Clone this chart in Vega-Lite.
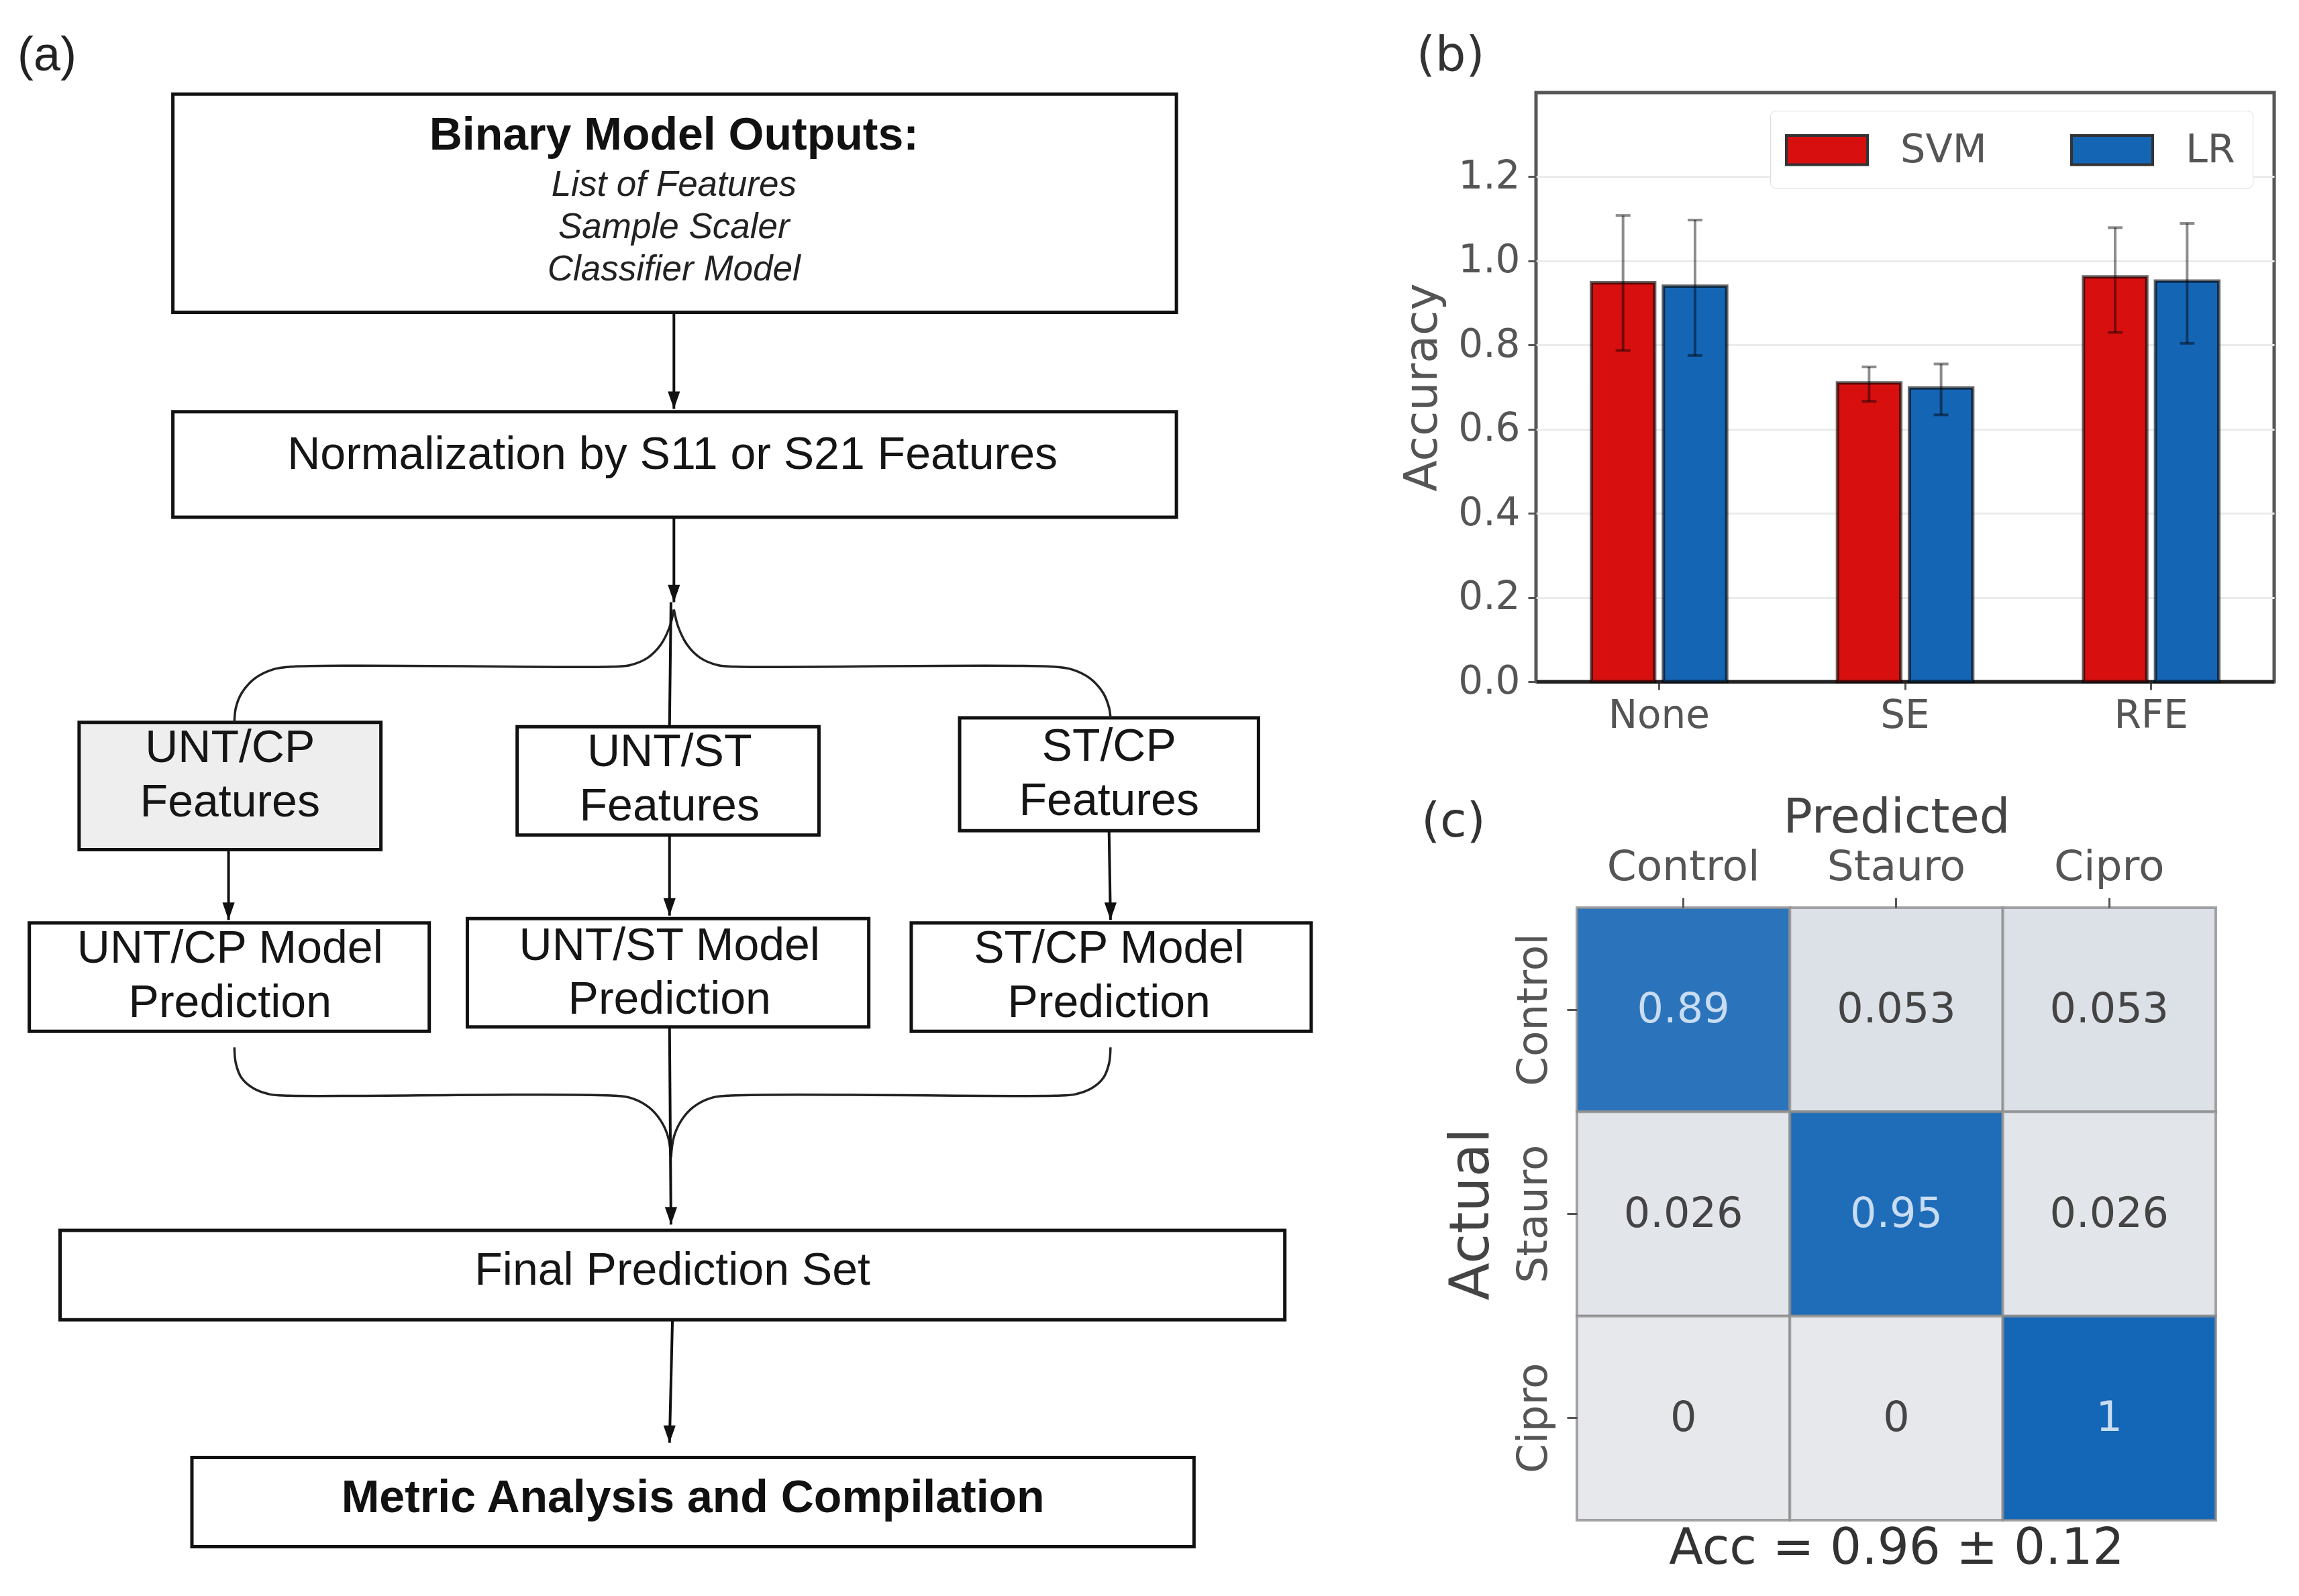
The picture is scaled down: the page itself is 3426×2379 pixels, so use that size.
{
  "$schema": "https://vega.github.io/schema/vega-lite/v6.json",
  "background": "white",
  "padding": {"left": 0, "top": 44, "right": 0, "bottom": 0},
  "spacing": 106,
  "config": {
    "view": {"stroke": null},
    "axis": {"labelFont": "DejaVu Sans", "titleFont": "DejaVu Sans", "titleFontWeight": "normal", "labelLimit": 500},
    "title": {"font": "DejaVu Sans", "fontWeight": "normal", "color": "#333333", "fontSize": 72}
  },
  "datasets": {
    "boxes": [
      {"box": "outputs", "x1": 118, "x2": 803, "y1": 64, "y2": 213, "shaded": false},
      {"box": "norm", "x1": 118, "x2": 803, "y1": 281, "y2": 353, "shaded": false},
      {"box": "f_untcp", "x1": 54, "x2": 260, "y1": 493, "y2": 580, "shaded": true},
      {"box": "f_untst", "x1": 353, "x2": 559, "y1": 496, "y2": 570, "shaded": false},
      {"box": "f_stcp", "x1": 655, "x2": 859, "y1": 490, "y2": 567, "shaded": false},
      {"box": "m_untcp", "x1": 20, "x2": 293, "y1": 630, "y2": 704, "shaded": false},
      {"box": "m_untst", "x1": 319, "x2": 593, "y1": 627, "y2": 701, "shaded": false},
      {"box": "m_stcp", "x1": 622, "x2": 895, "y1": 630, "y2": 704, "shaded": false},
      {"box": "final", "x1": 41, "x2": 877, "y1": 840, "y2": 901, "shaded": false},
      {"box": "metric", "x1": 131, "x2": 815, "y1": 995, "y2": 1056, "shaded": false}
    ],
    "arrows": [
      {"x": 460, "y": 213, "x2": 460, "y2": 279, "head": true},
      {"x": 460, "y": 353, "x2": 460, "y2": 411, "head": true},
      {"x": 458, "y": 411, "x2": 457, "y2": 496, "head": false},
      {"x": 156, "y": 580, "x2": 156, "y2": 628, "head": true},
      {"x": 457, "y": 570, "x2": 457, "y2": 625, "head": true},
      {"x": 757, "y": 567, "x2": 758, "y2": 628, "head": true},
      {"x": 457, "y": 701, "x2": 458, "y2": 836, "head": true},
      {"x": 459, "y": 901, "x2": 457, "y2": 985, "head": true}
    ],
    "braces": [
      {"path": "up_left", "seq": 1, "x": 460, "y": 416},
      {"path": "up_left", "seq": 2, "x": 457, "y": 428},
      {"path": "up_left", "seq": 3, "x": 451, "y": 440},
      {"path": "up_left", "seq": 4, "x": 442, "y": 449},
      {"path": "up_left", "seq": 5, "x": 430, "y": 454},
      {"path": "up_left", "seq": 6, "x": 418, "y": 455},
      {"path": "up_left", "seq": 7, "x": 200, "y": 455},
      {"path": "up_left", "seq": 8, "x": 186, "y": 457},
      {"path": "up_left", "seq": 9, "x": 174, "y": 463},
      {"path": "up_left", "seq": 10, "x": 165, "y": 473},
      {"path": "up_left", "seq": 11, "x": 161, "y": 483},
      {"path": "up_left", "seq": 12, "x": 160, "y": 493},
      {"path": "up_right", "seq": 1, "x": 460, "y": 416},
      {"path": "up_right", "seq": 2, "x": 463, "y": 428},
      {"path": "up_right", "seq": 3, "x": 469, "y": 440},
      {"path": "up_right", "seq": 4, "x": 478, "y": 449},
      {"path": "up_right", "seq": 5, "x": 490, "y": 454},
      {"path": "up_right", "seq": 6, "x": 502, "y": 455},
      {"path": "up_right", "seq": 7, "x": 718, "y": 455},
      {"path": "up_right", "seq": 8, "x": 732, "y": 457},
      {"path": "up_right", "seq": 9, "x": 744, "y": 463},
      {"path": "up_right", "seq": 10, "x": 753, "y": 473},
      {"path": "up_right", "seq": 11, "x": 757, "y": 483},
      {"path": "up_right", "seq": 12, "x": 758, "y": 490},
      {"path": "low_left", "seq": 1, "x": 160, "y": 715},
      {"path": "low_left", "seq": 2, "x": 161, "y": 726},
      {"path": "low_left", "seq": 3, "x": 165, "y": 736},
      {"path": "low_left", "seq": 4, "x": 173, "y": 743},
      {"path": "low_left", "seq": 5, "x": 184, "y": 747},
      {"path": "low_left", "seq": 6, "x": 198, "y": 748},
      {"path": "low_left", "seq": 7, "x": 420, "y": 748},
      {"path": "low_left", "seq": 8, "x": 432, "y": 750},
      {"path": "low_left", "seq": 9, "x": 443, "y": 756},
      {"path": "low_left", "seq": 10, "x": 451, "y": 765},
      {"path": "low_left", "seq": 11, "x": 456, "y": 776},
      {"path": "low_left", "seq": 12, "x": 458, "y": 790},
      {"path": "low_right", "seq": 1, "x": 758, "y": 715},
      {"path": "low_right", "seq": 2, "x": 757, "y": 726},
      {"path": "low_right", "seq": 3, "x": 753, "y": 736},
      {"path": "low_right", "seq": 4, "x": 745, "y": 743},
      {"path": "low_right", "seq": 5, "x": 734, "y": 747},
      {"path": "low_right", "seq": 6, "x": 720, "y": 748},
      {"path": "low_right", "seq": 7, "x": 496, "y": 748},
      {"path": "low_right", "seq": 8, "x": 484, "y": 750},
      {"path": "low_right", "seq": 9, "x": 473, "y": 756},
      {"path": "low_right", "seq": 10, "x": 465, "y": 765},
      {"path": "low_right", "seq": 11, "x": 460, "y": 776},
      {"path": "low_right", "seq": 12, "x": 458, "y": 790}
    ],
    "texts": [
      {"role": "head", "text": "Binary Model Outputs:", "x": 460, "y": 93},
      {"role": "item", "text": "List of Features", "x": 460, "y": 126},
      {"role": "item", "text": "Sample Scaler", "x": 460, "y": 155},
      {"role": "item", "text": "Classifier Model", "x": 460, "y": 184},
      {"role": "body", "text": "Normalization by S11 or S21 Features", "x": 459, "y": 311},
      {"role": "body", "text": "UNT/CP", "x": 157, "y": 511},
      {"role": "body", "text": "Features", "x": 157, "y": 548},
      {"role": "body", "text": "UNT/ST", "x": 457, "y": 514},
      {"role": "body", "text": "Features", "x": 457, "y": 551},
      {"role": "body", "text": "ST/CP", "x": 757, "y": 510},
      {"role": "body", "text": "Features", "x": 757, "y": 547},
      {"role": "body", "text": "UNT/CP Model", "x": 157, "y": 648},
      {"role": "body", "text": "Prediction", "x": 157, "y": 685},
      {"role": "body", "text": "UNT/ST Model", "x": 457, "y": 646},
      {"role": "body", "text": "Prediction", "x": 457, "y": 683},
      {"role": "body", "text": "ST/CP Model", "x": 757, "y": 648},
      {"role": "body", "text": "Prediction", "x": 757, "y": 685},
      {"role": "body", "text": "Final Prediction Set", "x": 459, "y": 868},
      {"role": "head", "text": "Metric Analysis and Compilation", "x": 473, "y": 1023}
    ],
    "accuracy": [
      {"method": "None", "model": "SVM", "accuracy": 0.948, "low": 0.787, "high": 1.108},
      {"method": "None", "model": "LR", "accuracy": 0.94, "low": 0.775, "high": 1.097},
      {"method": "SE", "model": "SVM", "accuracy": 0.71, "low": 0.666, "high": 0.748},
      {"method": "SE", "model": "LR", "accuracy": 0.698, "low": 0.634, "high": 0.755},
      {"method": "RFE", "model": "SVM", "accuracy": 0.962, "low": 0.83, "high": 1.079},
      {"method": "RFE", "model": "LR", "accuracy": 0.952, "low": 0.804, "high": 1.089}
    ],
    "confusion": [
      {"actual": "Control", "predicted": "Control", "value": 0.89, "label": "0.89"},
      {"actual": "Control", "predicted": "Stauro", "value": 0.053, "label": "0.053"},
      {"actual": "Control", "predicted": "Cipro", "value": 0.053, "label": "0.053"},
      {"actual": "Stauro", "predicted": "Control", "value": 0.026, "label": "0.026"},
      {"actual": "Stauro", "predicted": "Stauro", "value": 0.95, "label": "0.95"},
      {"actual": "Stauro", "predicted": "Cipro", "value": 0.026, "label": "0.026"},
      {"actual": "Cipro", "predicted": "Control", "value": 0, "label": "0"},
      {"actual": "Cipro", "predicted": "Stauro", "value": 0, "label": "0"},
      {"actual": "Cipro", "predicted": "Cipro", "value": 1, "label": "1"}
    ]
  },
  "hconcat": [
    {
      "width": 1978,
      "height": 2220,
      "title": {"text": "(a)", "anchor": "start", "frame": "bounds", "offset": 18, "dx": 26, "font": "Liberation Sans", "color": "#222222"},
      "layer": [
        {
          "data": {"name": "boxes"},
          "mark": {"type": "rect", "stroke": "#111111", "strokeWidth": 5},
          "encoding": {
            "x": {"field": "x1", "type": "quantitative", "scale": {"domain": [0, 906], "nice": false, "zero": false}, "axis": null},
            "x2": {"field": "x2"},
            "y": {"field": "y1", "type": "quantitative", "scale": {"domain": [63, 1080], "nice": false, "zero": false, "reverse": true}, "axis": null},
            "y2": {"field": "y2"},
            "fill": {"condition": {"test": "datum.shaded", "value": "#eeeeee"}, "value": "#ffffff"}
          }
        },
        {
          "data": {"name": "braces"},
          "mark": {"type": "line", "interpolate": "catmull-rom", "stroke": "#222222", "strokeWidth": 3.5},
          "encoding": {
            "x": {"field": "x", "type": "quantitative", "scale": {"domain": [0, 906], "nice": false, "zero": false}, "axis": null},
            "y": {"field": "y", "type": "quantitative", "scale": {"domain": [63, 1080], "nice": false, "zero": false, "reverse": true}, "axis": null},
            "detail": {"field": "path"},
            "order": {"field": "seq", "type": "quantitative"}
          }
        },
        {
          "data": {"name": "arrows"},
          "mark": {"type": "rule", "stroke": "#111111", "strokeWidth": 4},
          "encoding": {
            "x": {"field": "x", "type": "quantitative", "scale": {"domain": [0, 906], "nice": false, "zero": false}, "axis": null},
            "y": {"field": "y", "type": "quantitative", "scale": {"domain": [63, 1080], "nice": false, "zero": false, "reverse": true}, "axis": null},
            "x2": {"field": "x2"},
            "y2": {"field": "y2"}
          }
        },
        {
          "data": {"name": "arrows"},
          "transform": [{"filter": "datum.head"}],
          "mark": {"type": "point", "shape": "M-0.35,-1L0.35,-1L0,0Z", "filled": true, "size": 2704, "color": "#111111", "opacity": 1, "strokeWidth": 0},
          "encoding": {
            "x": {"field": "x2", "type": "quantitative", "scale": {"domain": [0, 906], "nice": false, "zero": false}, "axis": null},
            "y": {"field": "y2", "type": "quantitative", "scale": {"domain": [63, 1080], "nice": false, "zero": false, "reverse": true}, "axis": null}
          }
        },
        {
          "data": {"name": "texts"},
          "transform": [{"filter": "datum.role === 'head'"}],
          "mark": {"type": "text", "font": "Liberation Sans", "fontSize": 68, "fontWeight": "bold", "color": "#111111", "align": "center", "baseline": "middle"},
          "encoding": {
            "x": {"field": "x", "type": "quantitative", "scale": {"domain": [0, 906], "nice": false, "zero": false}, "axis": null},
            "y": {"field": "y", "type": "quantitative", "scale": {"domain": [63, 1080], "nice": false, "zero": false, "reverse": true}, "axis": null},
            "text": {"field": "text"}
          }
        },
        {
          "data": {"name": "texts"},
          "transform": [{"filter": "datum.role === 'item'"}],
          "mark": {"type": "text", "font": "Liberation Sans", "fontSize": 53, "fontStyle": "italic", "color": "#222222", "align": "center", "baseline": "middle"},
          "encoding": {
            "x": {"field": "x", "type": "quantitative", "scale": {"domain": [0, 906], "nice": false, "zero": false}, "axis": null},
            "y": {"field": "y", "type": "quantitative", "scale": {"domain": [63, 1080], "nice": false, "zero": false, "reverse": true}, "axis": null},
            "text": {"field": "text"}
          }
        },
        {
          "data": {"name": "texts"},
          "transform": [{"filter": "datum.role === 'body'"}],
          "mark": {"type": "text", "font": "Liberation Sans", "fontSize": 68, "color": "#151515", "align": "center", "baseline": "middle"},
          "encoding": {
            "x": {"field": "x", "type": "quantitative", "scale": {"domain": [0, 906], "nice": false, "zero": false}, "axis": null},
            "y": {"field": "y", "type": "quantitative", "scale": {"domain": [63, 1080], "nice": false, "zero": false, "reverse": true}, "axis": null},
            "text": {"field": "text"}
          }
        }
      ]
    },
    {
      "spacing": 83,
      "vconcat": [
        {
          "width": 1100,
          "height": 878,
          "view": {"stroke": "#555555", "strokeWidth": 5},
          "title": {"text": "(b)", "anchor": "start", "frame": "bounds", "offset": 18, "dx": 24},
          "data": {"name": "accuracy"},
          "encoding": {
            "x": {
              "field": "method", "type": "nominal", "sort": ["None", "SE", "RFE"],
              "scale": {"paddingInner": 0.45, "paddingOuter": 0.225},
              "axis": {"title": null, "labelAngle": 0, "labelFontSize": 58, "labelColor": "#555555", "tickSize": 12, "tickWidth": 3, "tickColor": "#555555", "labelPadding": 10, "domainColor": "#222222", "domainWidth": 5}
            },
            "xOffset": {"field": "model", "type": "nominal", "sort": ["SVM", "LR"], "scale": {"paddingInner": 0.12, "paddingOuter": 0}}
          },
          "layer": [
            {
              "mark": {"type": "bar", "stroke": "#000000", "strokeOpacity": 0.6, "strokeWidth": 5},
              "encoding": {
                "y": {
                  "field": "accuracy", "type": "quantitative", "title": "Accuracy",
                  "scale": {"domain": [0, 1.4], "nice": false},
                  "axis": {"values": [0, 0.2, 0.4, 0.6, 0.8, 1.0, 1.2], "format": ".1f", "labelFontSize": 58, "labelColor": "#555555", "titleFontSize": 68, "titleColor": "#555555", "titlePadding": 18, "tickSize": 12, "tickWidth": 3, "tickColor": "#555555", "labelPadding": 12, "domain": false, "grid": true, "gridColor": "#ebebeb", "gridWidth": 3}
                },
                "color": {
                  "field": "model", "type": "nominal",
                  "scale": {"domain": ["SVM", "LR"], "range": ["#D80F0F", "#1565B5"]},
                  "legend": {"title": null, "orient": "none", "legendX": 349, "legendY": 27, "direction": "horizontal", "fillColor": "#ffffff", "strokeColor": "#dddddd", "cornerRadius": 8, "padding": 26, "symbolType": "M-2,-0.72H2V0.72H-2Z", "symbolSize": 3660, "symbolOffset": 26, "symbolStrokeColor": "#333333", "symbolStrokeWidth": 4, "symbolOpacity": 1, "labelFont": "DejaVu Sans", "labelFontSize": 59, "labelColor": "#555555", "labelOffset": 77, "columnPadding": 118}
                }
              }
            },
            {
              "mark": {"type": "rule", "color": "#000000", "opacity": 0.45, "strokeWidth": 4},
              "encoding": {
                "y": {"field": "low", "type": "quantitative", "title": "Accuracy"},
                "y2": {"field": "high"}
              }
            },
            {
              "mark": {"type": "tick", "color": "#000000", "opacity": 0.45, "thickness": 4, "size": 22},
              "encoding": {"y": {"field": "low", "type": "quantitative", "title": "Accuracy"}}
            },
            {
              "mark": {"type": "tick", "color": "#000000", "opacity": 0.45, "thickness": 4, "size": 22},
              "encoding": {"y": {"field": "high", "type": "quantitative", "title": "Accuracy"}}
            }
          ]
        },
        {
          "width": 1013,
          "height": 913,
          "title": {"text": "(c)", "anchor": "start", "frame": "bounds", "offset": 0, "dy": 80, "dx": -33},
          "data": {"name": "confusion"},
          "layer": [
            {
              "mark": {"type": "rect", "stroke": "#8d8d8d", "strokeWidth": 4, "strokeOpacity": 0.8},
              "encoding": {
                "x": {
                  "field": "predicted", "type": "nominal", "sort": ["Control", "Stauro", "Cipro"],
                  "scale": {"paddingInner": 0, "paddingOuter": 0.096, "align": 1},
                  "axis": {"orient": "top", "title": "Predicted", "titleX": 537, "labelAngle": 0, "labelLimit": 500, "domain": false, "tickSize": 15, "tickWidth": 3, "tickColor": "#555555", "labelPadding": 14, "titlePadding": 6, "labelFontSize": 63, "labelColor": "#555555", "titleFontSize": 72, "titleColor": "#444444"}
                },
                "y": {
                  "field": "actual", "type": "nominal", "sort": ["Control", "Stauro", "Cipro"],
                  "scale": {"paddingInner": 0, "paddingOuter": 0},
                  "axis": {"orient": "left", "offset": -61, "title": "Actual", "labelAngle": -90, "labelAlign": "center", "labelBaseline": "bottom", "labelLimit": 500, "domain": false, "tickSize": 15, "tickWidth": 3, "tickColor": "#555555", "labelPadding": 18, "titlePadding": 20, "labelFontSize": 63, "labelColor": "#555555", "titleFontSize": 82, "titleColor": "#444444"}
                },
                "color": {
                  "field": "value", "type": "quantitative",
                  "scale": {"domain": [0, 1], "range": ["#E7E8EB", "#1466B6"], "interpolate": "rgb"},
                  "legend": null
                }
              }
            },
            {
              "mark": {"type": "text", "font": "DejaVu Sans", "fontSize": 62, "align": "center", "baseline": "middle"},
              "encoding": {
                "x": {
                  "field": "predicted", "type": "nominal", "sort": ["Control", "Stauro", "Cipro"],
                  "axis": {"orient": "bottom", "title": "Acc = 0.96 ± 0.12", "titleX": 537, "labels": false, "ticks": false, "domain": false, "titlePadding": 6, "titleFontSize": 74, "titleColor": "#333333"}
                },
                "y": {"field": "actual", "type": "nominal", "sort": ["Control", "Stauro", "Cipro"]},
                "text": {"field": "label"},
                "color": {"condition": {"test": "datum.value > 0.5", "value": "#C8DCF2"}, "value": "#444444"}
              }
            }
          ],
          "resolve": {"axis": {"x": "independent"}}
        }
      ]
    }
  ]
}
